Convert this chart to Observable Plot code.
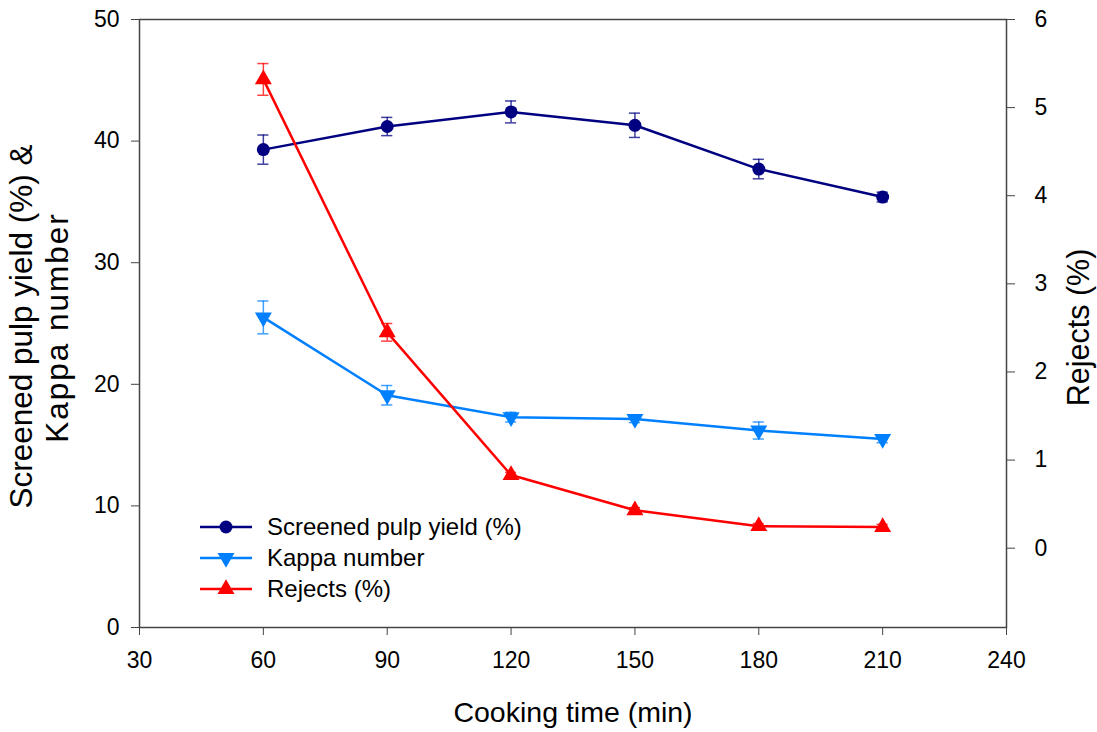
<!DOCTYPE html>
<html>
<head>
<meta charset="utf-8">
<script src="https://cdn.jsdelivr.net/npm/d3@7"></script>
<script src="https://cdn.jsdelivr.net/npm/@observablehq/plot@0.6"></script>
<style>
  html, body { margin: 0; padding: 0; background: #fff; }
  #wrap { position: relative; width: 1097px; height: 732px; font-family: "Liberation Sans", Arial, sans-serif; }
  #legend { position: absolute; left: 199px; top: 511px; font-size: 24px; color: #000; }
  #legend .row { display: flex; align-items: center; height: 31px; }
  #legend svg { margin-right: 14px; }
</style>
</head>
<body>
<div id="wrap"></div>
<script>
// ---- data ----
const times = [60, 90, 120, 150, 180, 210];
const yieldVals = [39.3, 41.2, 42.4, 41.3, 37.7, 35.4];
const yieldErr = [1.2, 0.75, 0.9, 1.0, 0.8, 0.4];
const kappaVals = [25.5, 19.1, 17.3, 17.15, 16.2, 15.5];
const kappaErr = [1.35, 0.8, 0.4, 0.3, 0.7, 0.3];
const rejectsVals = [5.32, 2.45, 0.83, 0.43, 0.25, 0.24];
const rejectsErr = [0.18, 0.1, 0.03, 0.03, 0.03, 0.03];
const xTicks = [30, 60, 90, 120, 150, 180, 210, 240];
const leftTicks = [0, 10, 20, 30, 40, 50];
const rightTicks = [0, 1, 2, 3, 4, 5, 6];
const seriesNames = ["Screened pulp yield (%)", "Kappa number", "Rejects (%)"];
const colors = ["#000080", "#0080ff", "#ff0000"];

// right axis domain [-0.9, 6] mapped onto left domain [0, 50]
const rMin = -0.9, rMax = 6;
const toLeft = r => (r - rMin) * 50 / (rMax - rMin);
const fromLeft = v => v * (rMax - rMin) / 50 + rMin;

const yieldData = times.map((t, i) => ({t, v: yieldVals[i], e: yieldErr[i]}));
const kappaData = times.map((t, i) => ({t, v: kappaVals[i], e: kappaErr[i]}));
const rejData = times.map((t, i) => ({t, v: toLeft(rejectsVals[i]), lo: toLeft(rejectsVals[i] - rejectsErr[i]), hi: toLeft(rejectsVals[i] + rejectsErr[i])}));

const cap = 1.35;
function errMarks(data, color, lo, hi) {
  return [
    Plot.ruleX(data, {x: "t", y1: lo, y2: hi, stroke: color, strokeWidth: 1.5, strokeOpacity: 0.75}),
    Plot.ruleY(data, {y: lo, x1: d => d.t - cap, x2: d => d.t + cap, stroke: color, strokeWidth: 1.5, strokeOpacity: 0.75}),
    Plot.ruleY(data, {y: hi, x1: d => d.t - cap, x2: d => d.t + cap, stroke: color, strokeWidth: 1.5, strokeOpacity: 0.75})
  ];
}

const chart = Plot.plot({
  width: 1097,
  height: 732,
  marginLeft: 139,
  marginRight: 91,
  marginTop: 19,
  marginBottom: 105,
  style: {fontFamily: "Liberation Sans, Arial, sans-serif", fontSize: "22px", color: "#000", background: "#fff"},
  x: {domain: [30, 240]},
  y: {domain: [0, 50]},
  marks: [
    Plot.frame({stroke: "#444", strokeWidth: 1.5}),
    Plot.axisX(xTicks, {tickSize: 8, tickPadding: 16, fontSize: 23, stroke: "#444", label: null}),
    Plot.axisY(leftTicks, {anchor: "left", tickSize: 8, tickPadding: 12, fontSize: 23, stroke: "#444", label: null}),
    Plot.axisY(rightTicks.map(toLeft), {anchor: "right", tickSize: 8, tickPadding: 20, fontSize: 23, stroke: "#444", label: null,
      tickFormat: d => String(Math.round(fromLeft(d)))}),
    Plot.text(["Cooking time (min)"], {frameAnchor: "bottom", dy: 85, lineAnchor: "middle", textAnchor: "middle", fontSize: 28.5, fill: "#000"}),
    Plot.text(["Screened pulp yield (%) &"], {frameAnchor: "left", dx: -118, dy: 3, rotate: -90, textAnchor: "middle", lineAnchor: "middle", fontSize: 31.5, fill: "#000"}),
    Plot.text(["Kappa number"], {frameAnchor: "left", dx: -82, dy: 4, rotate: -90, textAnchor: "middle", lineAnchor: "middle", fontSize: 31.5, fill: "#000"}),
    Plot.text(["Rejects (%)"], {frameAnchor: "right", dx: 73, dy: 4, rotate: -90, textAnchor: "middle", lineAnchor: "middle", fontSize: 30.5, fill: "#000"}),
    ...errMarks(yieldData, colors[0], d => d.v - d.e, d => d.v + d.e),
    ...errMarks(kappaData, colors[1], d => d.v - d.e, d => d.v + d.e),
    ...errMarks(rejData, colors[2], "lo", "hi"),
    Plot.line(yieldData, {x: "t", y: "v", stroke: colors[0], strokeWidth: 2.5}),
    Plot.line(kappaData, {x: "t", y: "v", stroke: colors[1], strokeWidth: 2.5}),
    Plot.line(rejData, {x: "t", y: "v", stroke: colors[2], strokeWidth: 2.5}),
    Plot.dot(yieldData, {x: "t", y: "v", r: 6.5, fill: colors[0], stroke: "none"}),
    Plot.dot(kappaData, {x: "t", y: "v", r: 6.3, symbol: "triangle", rotate: 180, fill: colors[1], stroke: "none"}),
    Plot.dot(rejData, {x: "t", y: "v", r: 6.3, symbol: "triangle", fill: colors[2], stroke: "none"})
  ]
});

// enforce tick label size
d3.select(chart).selectAll('g[aria-label$="tick label"]').attr("font-size", 23).style("font-size", "23px");
d3.select(chart).selectAll('g[aria-label$="tick label"] text').style("font-size", "23px");
// slight letter spacing on the second y-label line to match reference width
d3.select(chart).selectAll("text").filter(function() { return this.textContent === "Kappa number"; })
  .style("letter-spacing", "2px");

const wrap = document.getElementById("wrap");
wrap.appendChild(chart);

// legend
const legend = document.createElement("div");
legend.id = "legend";
const symbols = [d3.symbolCircle, d3.symbolTriangle, d3.symbolTriangle];
const rots = [0, 180, 0];
const areas = [Math.PI * 6.5 * 6.5, Math.PI * 6.3 * 6.3, Math.PI * 6.3 * 6.3];
seriesNames.forEach((name, i) => {
  const row = document.createElement("div");
  row.className = "row";
  const p = d3.symbol(symbols[i], areas[i])();
  row.innerHTML = `<svg width="54" height="20" viewBox="0 0 54 20"><line x1="1" y1="10" x2="53" y2="10" stroke="${colors[i]}" stroke-width="2.5"/><path d="${p}" transform="translate(27,10) rotate(${rots[i]})" fill="${colors[i]}"/></svg><span>${name}</span>`;
  legend.appendChild(row);
});
wrap.appendChild(legend);
</script>
</body>
</html>
